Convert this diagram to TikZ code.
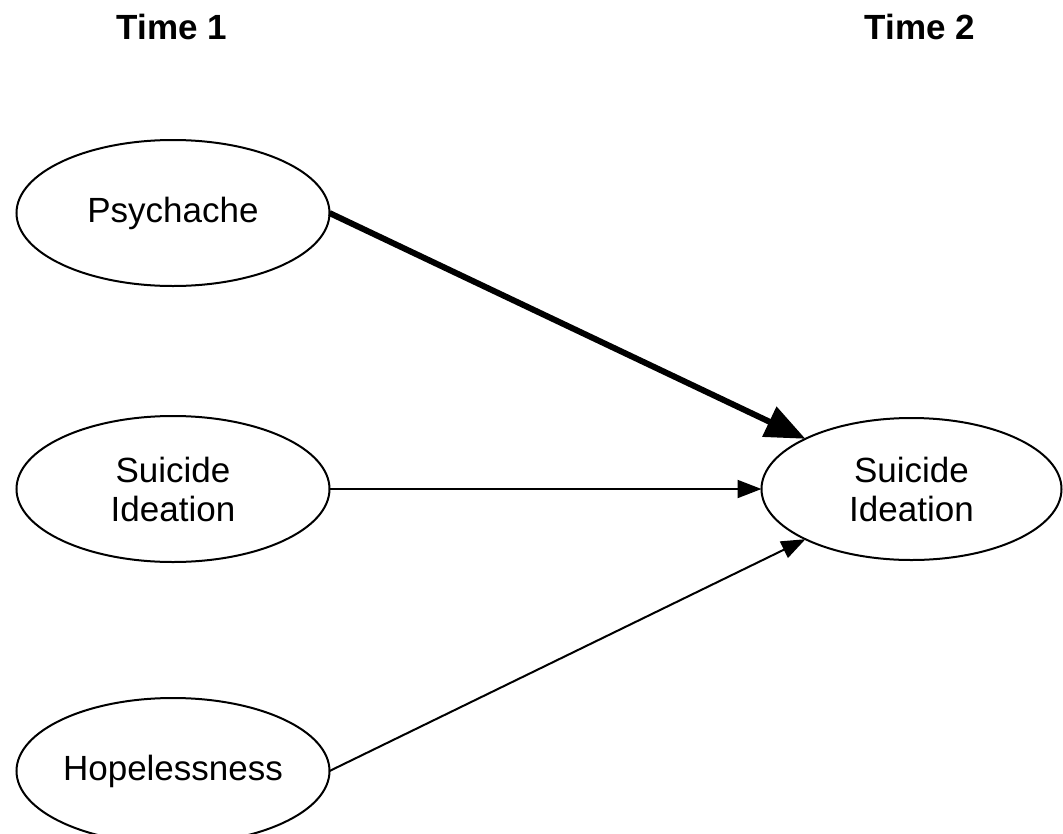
\documentclass[tikz,border=0pt]{standalone}
\usepackage{fontspec}
\setmainfont{Liberation Sans}
\usetikzlibrary{arrows.meta}
\usetikzlibrary{positioning}
\usetikzlibrary{shapes.geometric}

\begin{document}
\begin{tikzpicture}[x=1pt, y=1pt,
	var/.style={ellipse, draw, line width=2pt, minimum width=313pt, minimum height=146pt, inner sep=0pt, outer sep=0pt, align=center, font=\fontsize{35}{39}\selectfont},
	title/.style={font=\fontsize{35}{39}\selectfont\bfseries},
	path/.style={line width=2pt, -{Triangle[length=24pt, width=18pt]}},
	strong/.style={line width=6pt, -{Triangle[length=40pt, width=32pt]}}]
	\useasboundingbox (0,0) rectangle (1063,-833);

	\node[title](t_one) at (172,-27){Time 1};
	\node[title](t_two) at (920,-27){Time 2};

	\node[var](psych) at (173,-213){Psychache};
	\node[var, below=130pt of psych](si_1){Suicide\\Ideation};
	\node[var, below=136pt of si_1](hope){Hopelessness};

	\node[var, right=432pt of si_1, minimum width=300pt, minimum height=142pt](si_2){Suicide\\Ideation};

	\draw[strong] (psych.east) -- (si_2.north west);
	\draw[path] (si_1.east) -- (si_2.west);
	\draw[path] (hope.east) -- (si_2.south west);
\end{tikzpicture}
\end{document}
